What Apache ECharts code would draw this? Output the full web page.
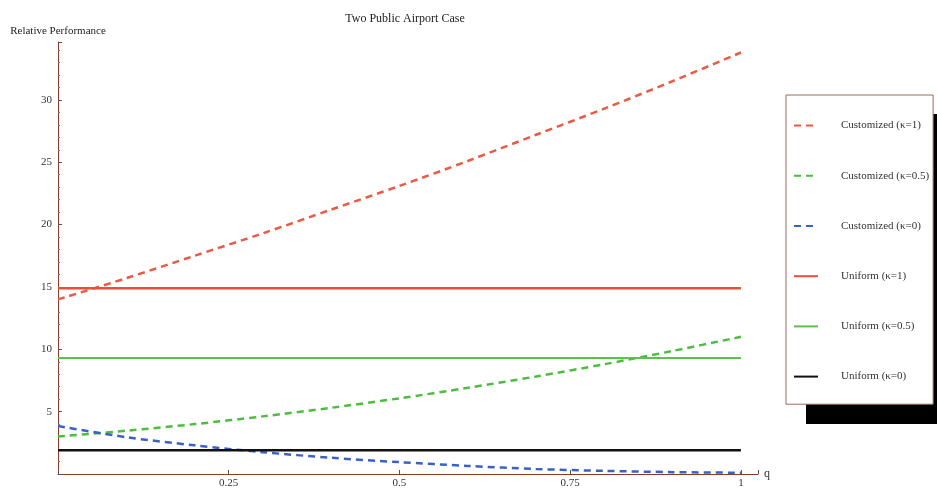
<!DOCTYPE html>
<html>
<head>
<meta charset="utf-8">
<script src="https://cdn.jsdelivr.net/npm/echarts@6/dist/echarts.min.js"></script>
<style>
  html, body { margin: 0; padding: 0; background: #fff; }
  #main { width: 937px; height: 489px; }
</style>
</head>
<body>
<div id="main"></div>
<script>
// q grid the curves were read at
var qValues = [0, 0.1, 0.2, 0.3, 0.4, 0.5, 0.6, 0.7, 0.8, 0.9, 1];

// customized schemes (dashed)
var customK1 = [14.0, 15.7, 17.5, 19.3, 21.2, 23.1, 25.1, 27.2, 29.3, 31.5, 33.8];
var customK05 = [3.0, 3.47, 4.0, 4.62, 5.31, 6.07, 6.91, 7.82, 8.8, 9.87, 11.0];
var customK0 = [3.85, 2.95, 2.3, 1.75, 1.3, 0.95, 0.65, 0.4, 0.25, 0.15, 0.1];

// uniform schemes (flat)
var uniformK1 = 14.9;
var uniformK05 = 9.3;
var uniformK0 = 1.9;

var xTicks = [0.25, 0.5, 0.75, 1];
var yTicks = [5, 10, 15, 20, 25, 30];

var serif = '"Liberation Serif", "DejaVu Serif", serif';

function pairs(ys) {
    return qValues.map(function (q, i) { return [q, ys[i]]; });
}
function flat(v) {
    return [[qValues[0], v], [qValues[qValues.length - 1], v]];
}

var myChart = echarts.init(document.getElementById('main'));

var option = {
    backgroundColor: '#ffffff',
    animation: false,
    title: {
        text: 'Two Public Airport Case',
        left: 400,
        top: 8,
        textAlign: 'center',
        textStyle: { fontFamily: serif, fontSize: 12, fontWeight: 'normal', color: '#222' }
    },
    // drop shadow behind the legend box
    graphic: [{
        type: 'rect',
        z: 0,
        shape: { x: 806, y: 114, width: 140, height: 310 },
        style: { fill: '#000000' }
    }],
    legend: {
        orient: 'vertical',
        left: 786,
        top: 95,
        z: 10,
        padding: [25, 4, 22, 7],
        itemWidth: 24,
        itemHeight: 14,
        itemGap: 39,
        backgroundColor: '#ffffff',
        borderColor: '#9a6a5a',
        borderWidth: 1,
        itemStyle: { opacity: 0 },
        textStyle: { fontFamily: serif, fontSize: 11, color: '#333', padding: [0, 0, 0, 18] },
        data: ['Customized (κ=1)', 'Customized (κ=0.5)', 'Customized (κ=0)',
               'Uniform (κ=1)', 'Uniform (κ=0.5)', 'Uniform (κ=0)']
    },
    grid: {
        left: 58,
        right: 179,
        top: 42,
        bottom: 14,
        containLabel: false
    },
    xAxis: {
        type: 'value',
        min: 0,
        max: 1.025,
        interval: 0.25,
        name: 'q',
        nameLocation: 'end',
        nameGap: 6,
        nameTextStyle: { fontFamily: serif, fontSize: 12, color: '#333' },
        axisLine: { lineStyle: { color: '#8b3a2a', width: 1 } },
        axisTick: { inside: true, length: 4, lineStyle: { color: '#555' } },
        axisLabel: {
            fontFamily: serif, fontSize: 11, color: '#333', margin: 4,
            formatter: function (v) {
                for (var i = 0; i < xTicks.length; i++) {
                    if (Math.abs(v - xTicks[i]) < 1e-6) return String(xTicks[i]);
                }
                return '';
            }
        },
        splitLine: { show: false }
    },
    yAxis: {
        type: 'value',
        min: 0,
        max: 34.64,
        interval: 5,
        name: 'Relative Performance',
        nameLocation: 'end',
        nameGap: 5,
        nameTextStyle: { fontFamily: serif, fontSize: 11, color: '#222' },
        axisLine: { show: true, lineStyle: { color: '#8b3a2a', width: 1 } },
        axisTick: { show: true, inside: true, length: 4, lineStyle: { color: '#555' } },
        minorTick: { show: true, splitNumber: 5, length: 2, lineStyle: { color: '#777' } },
        axisLabel: {
            fontFamily: serif, fontSize: 11, color: '#333', margin: 6,
            formatter: function (v) {
                return yTicks.indexOf(Math.round(v * 1000) / 1000) >= 0 ? String(v) : '';
            }
        },
        splitLine: { show: false }
    },
    series: [
        {
            name: 'Customized (κ=1)', type: 'line', symbol: 'none', smooth: 0.3,
            data: pairs(customK1),
            lineStyle: { color: '#ea5a45', width: 2.5, type: [7, 5] },
            itemStyle: { color: '#ea5a45' }
        },
        {
            name: 'Customized (κ=0.5)', type: 'line', symbol: 'none', smooth: 0.3,
            data: pairs(customK05),
            lineStyle: { color: '#4dbd3f', width: 2.5, type: [7, 5] },
            itemStyle: { color: '#4dbd3f' }
        },
        {
            name: 'Customized (κ=0)', type: 'line', symbol: 'none', smooth: 0.3,
            data: pairs(customK0),
            lineStyle: { color: '#3a62c4', width: 2.5, type: [7, 5] },
            itemStyle: { color: '#3a62c4' }
        },
        {
            name: 'Uniform (κ=1)', type: 'line', symbol: 'none',
            data: flat(uniformK1),
            lineStyle: { color: '#e8503a', width: 2.5 },
            itemStyle: { color: '#e8503a' }
        },
        {
            name: 'Uniform (κ=0.5)', type: 'line', symbol: 'none',
            data: flat(uniformK05),
            lineStyle: { color: '#5cc04a', width: 2 },
            itemStyle: { color: '#5cc04a' }
        },
        {
            name: 'Uniform (κ=0)', type: 'line', symbol: 'none',
            data: flat(uniformK0),
            lineStyle: { color: '#111111', width: 2.5 },
            itemStyle: { color: '#111111' }
        }
    ]
};

option && myChart.setOption(option);
</script>
</body>
</html>
